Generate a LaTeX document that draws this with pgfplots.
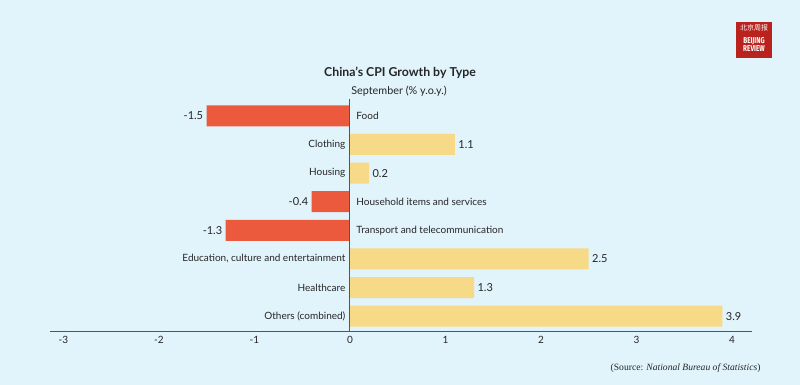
\documentclass[border=0pt]{standalone}
\usepackage{pgfplots}
\pgfplotsset{compat=1.18}
\usepackage{pgfplotstable}
\usepackage{fontspec}
\setmainfont{Lato}
\newfontfamily\srcfont{Liberation Serif}
\newfontfamily\cjk{Noto Sans CJK SC}
\newfontfamily\logofont{Fira Sans}
\definecolor{bgc}{HTML}{E1F3FB}
\definecolor{negc}{HTML}{EB5A3C}
\definecolor{posc}{HTML}{F6DA87}
\definecolor{axc}{HTML}{555555}
\definecolor{txc}{HTML}{262626}
\definecolor{logored}{HTML}{B8231E}

\pgfplotstableread[col sep=semicolon]{
x;y;label
-1.5;0;Food
-0.4;3;Household items and services
-1.3;4;Transport and telecommunication
}\negdata
\pgfplotstableread[col sep=semicolon]{
x;y;label
1.1;1;Clothing
0.2;2;Housing
2.5;5;Education, culture and entertainment
1.3;6;Healthcare
3.9;7;Others (combined)
}\posdata

\begin{document}
\begin{tikzpicture}[x=1pt,y=1pt]
\fill[bgc] (0,0) rectangle (800,385);
% logo
\fill[logored] (736,327) rectangle (772,363);
\node[white,font=\cjk\fontsize{7}{7}\selectfont,inner sep=0pt] at (754,357) {北京周报};
\node[white,font=\logofont\bfseries\fontsize{8.5}{8.5}\selectfont,align=center,inner sep=0pt] at (754,340.5) {\scalebox{0.75}[1]{BEIJING}\\[-0.5pt]\scalebox{0.75}[1]{REVIEW}};
% titles
\node[txc,font=\bfseries\fontsize{12.3}{14}\selectfont] at (400,312) {China’s CPI Growth by Type};
\node[txc,font=\fontsize{10.8}{12}\selectfont] at (399,294) {September (\% y.o.y.)};
\node[txc,anchor=east,font=\srcfont\fontsize{9.6}{11}\selectfont] at (764,17) {(Source: \textit{National Bureau of Statistics})};
\begin{axis}[
  at={(50pt,54pt)}, anchor=south west,
  scale only axis, width=702pt, height=228pt,
  xmin=-3.14, xmax=4.21, ymin=-0.45, ymax=7.52,
  y dir=reverse,
  axis x line=bottom, axis y line=none,
  x axis line style={-, draw=axc, line width=1pt},
  xtick={-3,-2,-1,0,1,2,3,4},
  major tick length=0pt,
  xticklabel style={font=\fontsize{10}{12}\selectfont, text=txc, yshift=-2pt},
  /pgf/number format/assume math mode=true,
  clip=false,
]
\addplot[xbar, bar width=21pt, bar shift=0pt, fill=negc, draw=none,
  nodes near coords, point meta=x,
  nodes near coords style={anchor=east, font=\fontsize{11}{13}\selectfont, text=txc,
    /pgf/number format/.cd, fixed, precision=1, fixed zerofill, assume math mode=true}]
  table[x=x,y=y] {\negdata};
\addplot[xbar, bar width=21pt, bar shift=0pt, fill=posc, draw=none,
  nodes near coords, point meta=x,
  nodes near coords style={anchor=west, font=\fontsize{11}{13}\selectfont, text=txc,
    /pgf/number format/.cd, fixed, precision=1, fixed zerofill, assume math mode=true}]
  table[x=x,y=y] {\posdata};
% category labels
\addplot[draw=none, mark=none, nodes near coords, point meta=explicit symbolic,
  nodes near coords style={anchor=west, font=\fontsize{10}{12}\selectfont, text=txc, xshift=3pt}]
  table[x expr=0, y=y, meta=label] {\negdata};
\addplot[draw=none, mark=none, nodes near coords, point meta=explicit symbolic,
  nodes near coords style={anchor=east, font=\fontsize{10}{12}\selectfont, text=txc, xshift=-1pt}]
  table[x expr=0, y=y, meta=label] {\posdata};
\draw[axc, line width=1pt] (axis cs:0,-0.6) -- (axis cs:0,7.52);
\end{axis}
\end{tikzpicture}
\end{document}
